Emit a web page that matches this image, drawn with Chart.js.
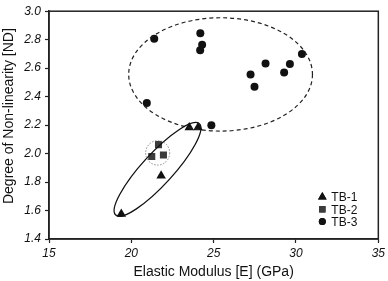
<!DOCTYPE html>
<html>
<head>
<meta charset="utf-8">
<script src="https://cdn.jsdelivr.net/npm/chart.js@4.4.1/dist/chart.umd.min.js"></script>
<style>
  html, body { margin: 0; padding: 0; background: #fff; }
  #wrap { width: 388px; height: 281px; }
</style>
</head>
<body>
<div id="wrap"><canvas id="chart"></canvas></div>
<script>
// values
const tb1Modulus = [23.52, 24.05, 21.81, 19.39]
const tb1Degree = [2.183, 2.183, 1.844, 1.575]

const tb2Modulus = [21.65, 21.24, 21.95]
const tb2Degree = [2.063, 1.980, 1.990]

const tb3Modulus = [21.39, 24.19, 24.30, 24.18, 30.36, 28.15, 29.63, 27.24, 29.28, 27.48, 20.94, 24.86]
const tb3Degree = [2.807, 2.846, 2.765, 2.726, 2.700, 2.632, 2.630, 2.556, 2.570, 2.470, 2.355, 2.199]

const seriesLabels = ['TB-1', 'TB-2', 'TB-3']
const xTicks = [15, 20, 25, 30, 35]
const yTicks = [1.4, 1.6, 1.8, 2.0, 2.2, 2.4, 2.6, 2.8, 3.0]

// group outlines, in data units: centre, end of major axis, end of minor axis (or ratio)
const groupOutlines = [
  { center: [25.42, 2.556], major: [31.0, 2.556], minor: [25.42, 2.954], style: 'dashed' },
  { center: [21.59, 1.889], major: [24.13, 2.21], ratio: 0.25, style: 'solid' },
  { center: [21.60, 2.005], major: [22.33, 2.005], minor: [21.60, 2.091], style: 'dotted' }
]

const toPoints = (xs, ys) => xs.map((x, i) => ({ x: x, y: ys[i] }))

const outlinePlugin = {
  id: 'outlines',
  afterDatasetsDraw(chart) {
    const { ctx, scales: { x, y } } = chart
    ctx.save()
    for (const o of groupOutlines) {
      const cx = x.getPixelForValue(o.center[0])
      const cy = y.getPixelForValue(o.center[1])
      const ax = x.getPixelForValue(o.major[0]) - cx
      const ay = y.getPixelForValue(o.major[1]) - cy
      const rx = Math.hypot(ax, ay)
      let ry
      if (o.minor) {
        ry = Math.hypot(x.getPixelForValue(o.minor[0]) - cx, y.getPixelForValue(o.minor[1]) - cy)
      } else {
        ry = rx * o.ratio
      }
      ctx.beginPath()
      ctx.ellipse(cx, cy, rx, ry, Math.atan2(ay, ax), 0, Math.PI * 2)
      if (o.style === 'dashed') {
        ctx.strokeStyle = '#222'
        ctx.lineWidth = 1.2
        ctx.setLineDash([4, 3])
      } else if (o.style === 'dotted') {
        ctx.strokeStyle = '#888'
        ctx.lineWidth = 1
        ctx.setLineDash([1.5, 1.5])
      } else {
        ctx.strokeStyle = '#111'
        ctx.lineWidth = 1.3
        ctx.setLineDash([])
      }
      ctx.stroke()
    }
    ctx.restore()
  },
  afterDraw(chart) {
    const { ctx, chartArea } = chart
    ctx.save()
    // box around plot
    ctx.strokeStyle = '#222'
    ctx.lineWidth = 1.5
    ctx.strokeRect(chartArea.left, chartArea.top, chartArea.right - chartArea.left, chartArea.bottom - chartArea.top)

    // y axis title, a bit above centre as in the reference
    ctx.translate(9, (chartArea.top + chartArea.bottom) / 2 - 9)
    ctx.rotate(-Math.PI / 2)
    ctx.fillStyle = '#111'
    ctx.font = '14px "Liberation Sans", Arial, sans-serif'
    ctx.textAlign = 'center'
    ctx.textBaseline = 'middle'
    ctx.fillText('Degree of Non-linearity [ND]', 0, 0)
    ctx.setTransform(1, 0, 0, 1, 0, 0)

    // legend in lower right corner
    ctx.font = '12px "Liberation Sans", Arial, sans-serif'
    ctx.textAlign = 'left'
    chart.data.datasets.forEach((ds, i) => {
      const mx = chartArea.right - 56
      const my = chartArea.bottom - 42 + i * 12.3
      Chart.helpers.drawPoint(ctx, {
        pointStyle: ds.pointStyle,
        radius: ds.pointRadius - 0.5,
        borderWidth: 0
      }, mx, my)
      ctx.fillStyle = ds.backgroundColor
      ctx.fill()
      ctx.fillStyle = '#111'
      ctx.fillText(ds.label, mx + 9, my + 1)
    })
    ctx.restore()
  }
}

const tickFont = { family: '"Liberation Sans", Arial, sans-serif', size: 12, style: 'italic' }

new Chart(document.getElementById('chart'), {
  type: 'scatter',
  data: {
    datasets: [
      {
        label: seriesLabels[0],
        data: toPoints(tb1Modulus, tb1Degree),
        pointStyle: 'triangle',
        pointRadius: 5.5,
        backgroundColor: '#111',
        borderColor: '#111',
        borderWidth: 0
      },
      {
        label: seriesLabels[1],
        data: toPoints(tb2Modulus, tb2Degree),
        pointStyle: 'rect',
        pointRadius: 5,
        backgroundColor: '#3c3c3c',
        borderColor: '#3c3c3c',
        borderWidth: 0
      },
      {
        label: seriesLabels[2],
        data: toPoints(tb3Modulus, tb3Degree),
        pointStyle: 'circle',
        pointRadius: 4,
        backgroundColor: '#111',
        borderColor: '#111',
        borderWidth: 0
      }
    ]
  },
  options: {
    responsive: true,
    maintainAspectRatio: false,
    animation: false,
    layout: { padding: { top: 8, right: 9, left: 0, bottom: 0 } },
    plugins: {
      legend: { display: false },
      tooltip: { enabled: false }
    },
    scales: {
      x: {
        type: 'linear',
        min: 15,
        max: 35,
        afterBuildTicks: scale => { scale.ticks = xTicks.map(v => ({ value: v })) },
        afterFit: scale => { scale.height = 42 },
        ticks: { color: '#111', font: tickFont, padding: 3 },
        grid: { drawOnChartArea: false, tickLength: 4, tickColor: '#222', tickWidth: 1.2 },
        border: { color: '#222', width: 1.5 },
        title: {
          display: true,
          text: 'Elastic Modulus [E] (GPa)',
          color: '#111',
          font: { family: '"Liberation Sans", Arial, sans-serif', size: 14 },
          padding: { top: 1, bottom: 0 }
        }
      },
      y: {
        type: 'linear',
        min: 1.4,
        max: 3.0,
        afterBuildTicks: scale => { scale.ticks = yTicks.map(v => ({ value: v })) },
        afterFit: scale => { scale.width = 49 },
        ticks: { color: '#111', font: tickFont, padding: 4, callback: v => v.toFixed(1) },
        grid: { drawOnChartArea: false, tickLength: 4, tickColor: '#222', tickWidth: 1.2 },
        border: { color: '#222', width: 1.5 }
      }
    }
  },
  plugins: [outlinePlugin]
})
</script>
</body>
</html>
